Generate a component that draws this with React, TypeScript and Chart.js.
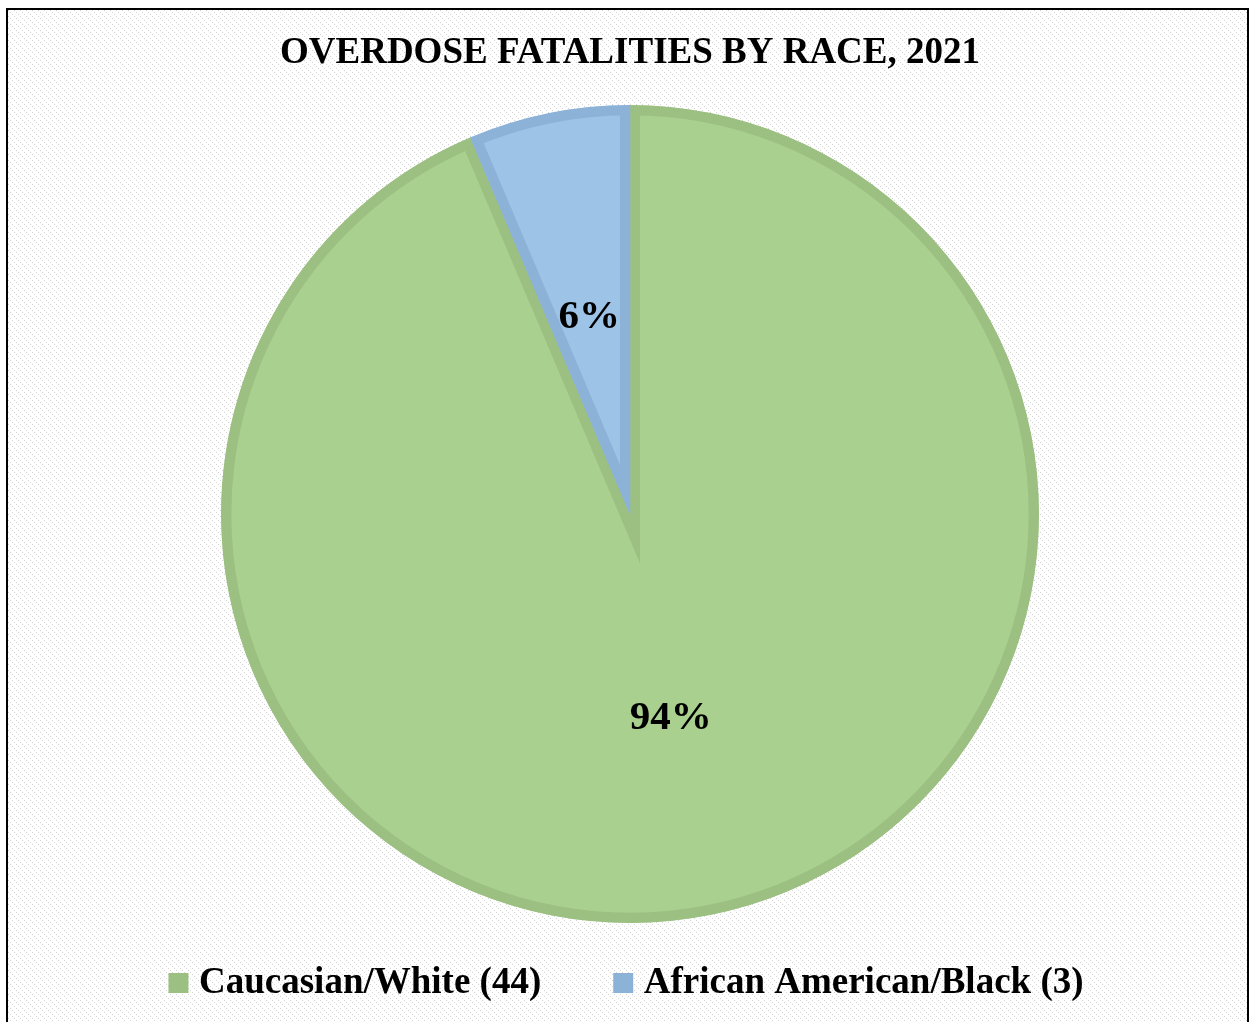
import React, { useEffect, useRef } from 'react';
import { Chart, registerables } from 'chart.js';

Chart.register(...registerables);

const categories = ['Caucasian/White (44)', 'African American/Black (3)'];
const values = [44, 3];
const fillColors = ['#a9d08e', '#9dc3e6'];
const borderColors = ['#9cbf82', '#8db2d8'];
const chartTitle = 'OVERDOSE FATALITIES BY RACE, 2021';

const FONT = '"Liberation Serif", "Times New Roman", serif';

const hatchPlugin = {
  id: 'hatch',
  beforeDraw(chart: any) {
    const tile = document.createElement('canvas');
    tile.width = 6;
    tile.height = 6;
    const t = tile.getContext('2d')!;
    t.fillStyle = '#ffffff';
    t.fillRect(0, 0, 6, 6);
    t.fillStyle = '#d4d4d4';
    [0, 2, 4].forEach((i) => t.fillRect(i, i, 1, 1));
    const ctx = chart.ctx;
    ctx.save();
    const pat = ctx.createPattern(tile, 'repeat');
    if (pat) ctx.fillStyle = pat;
    ctx.fillRect(0, 0, chart.width, chart.height);
    ctx.restore();
  },
};

const pctPlugin = {
  id: 'pct',
  afterDatasetsDraw(chart: any) {
    const meta = chart.getDatasetMeta(0);
    const data = chart.data.datasets[0].data as number[];
    const total = data.reduce((a, b) => a + b, 0);
    const ctx = chart.ctx;
    ctx.save();
    ctx.font = `bold 41px ${FONT}`;
    ctx.fillStyle = '#000';
    ctx.textAlign = 'center';
    ctx.textBaseline = 'middle';
    meta.data.forEach((arc: any, i: number) => {
      const { x, y } = arc.tooltipPosition(false);
      ctx.fillText(Math.round((data[i] / total) * 100) + '%', x, y + 4);
    });
    ctx.restore();
  },
};

export default function App() {
  const ref = useRef<HTMLCanvasElement>(null);
  useEffect(() => {
    if (!ref.current) return;
    const chart = new Chart(ref.current, {
      type: 'pie',
      data: {
        labels: categories,
        datasets: [
          {
            data: values,
            backgroundColor: fillColors,
            borderColor: borderColors,
            borderWidth: 10,
            borderAlign: 'inner',
            borderJoinStyle: 'miter',
            radius: 409,
          } as any,
        ],
      },
      options: {
        responsive: false,
        animation: false,
        layout: { padding: { left: 5, bottom: 28.5 } },
        plugins: {
          title: {
            display: true,
            text: chartTitle,
            color: '#000',
            font: { family: FONT, size: 37, weight: 'bold' },
            padding: { top: 21.5, bottom: 67.6 },
          },
          legend: {
            position: 'bottom',
            labels: {
              usePointStyle: true,
              pointStyle: 'rect',
              boxWidth: 4,
              boxHeight: 20,
              padding: 80,
              color: '#000',
              font: { family: FONT, size: 37, weight: 'bold' },
              generateLabels: (c: any) =>
                (c.data.labels as string[]).map((text, i) => ({
                  text,
                  fillStyle: borderColors[i],
                  strokeStyle: borderColors[i],
                  lineWidth: 0,
                  fontColor: '#000',
                  pointStyle: 'rect',
                  hidden: false,
                  index: i,
                })),
            },
          },
          tooltip: { enabled: false },
        },
      } as any,
      plugins: [hatchPlugin, pctPlugin],
    });
    return () => chart.destroy();
  }, []);

  return (
    <div
      style={{
        position: 'fixed',
        left: 6,
        top: 8,
        width: 1239,
        height: 1030,
        border: '2px solid #000',
        background: '#fff',
      }}
    >
      <canvas ref={ref} width={1239} height={1030} style={{ display: 'block' }} />
    </div>
  );
}
